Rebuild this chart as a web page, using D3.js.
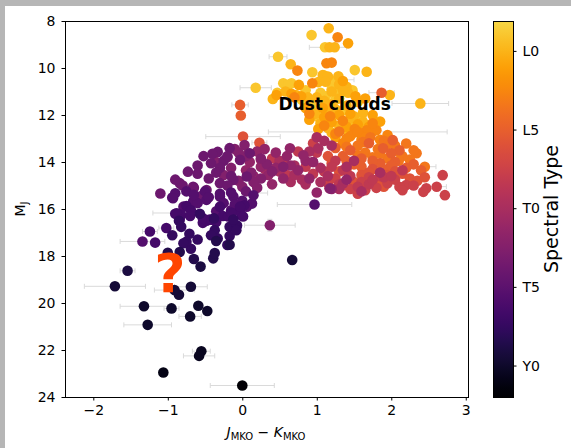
<!DOCTYPE html>
<html>
<head>
<meta charset="utf-8">
<script src="https://cdn.jsdelivr.net/npm/d3@7"></script>
<style>
body { margin: 0; background: #b6b6b6; }
svg { display: block; font-family: "DejaVu Sans", sans-serif; }
</style>
</head>
<body>
<div id="chart"></div>
<script>
// spectral type as a number: 10 = L0, 20 = T0, 30 = Y0
var sptBins = [9, 10, 11, 12.5, 13.5, 15, 16, 17.5, 18.5, 20, 21.5, 22.5, 24, 25.5, 26.5, 27.5, 28.5, 29, 29.5, 30, 30.5, 31, 31.8];

// J-K colour per bin
var jkBins = [
  [0.93,1.11,0.48,0.94,1.51,0.18,0.55,0.66,0.62,1.10,1.22,1.05,1.30,0.80,0.95,1.35,1.00,1.15,1.45,1.60,1.20,0.47,1.25,1.48,0.85,1.12],
  [1.16,1.17,1.24,0.65,1.67,0.41,1.98,2.39,1.08,1.15,1.29,1.02,1.12,1.30,1.40,1.20,1.42,0.58,0.72,0.88,1.10,1.55,1.40,1.25,0.92,1.15,1.50,1.62,1.05,1.30,1.55,1.20,1.70,1.35,1.00,1.30,1.18,1.45,0.98,1.62,1.38,1.15],
  [1.42,0.76,0.46,0.66,0.79,1.35,1.52,1.65,0.85,1.08,1.30,1.45,1.75,1.85,1.40,1.60,1.25,1.02,1.75,1.20,1.55,1.70,1.10,1.50,0.90],
  [1.28,0.74,1.13,1.20,0.94,0.70,0.90,1.18,1.35,1.51,1.67,1.45,1.80,1.95,1.10,1.60,1.35,1.55,1.65,1.85,1.25,1.75,1.40],
  [1.62,2.20,2.34,2.45,1.72,1.90,2.05,1.55,1.82,2.10,1.40,1.65,2.25,1.95,1.30,1.75,2.15,1.95,2.10,1.55,1.85,2.30],
  [-0.03,-0.02,1.87,2.02,2.11,2.00,1.89,1.70,1.45,1.60,1.85,2.05,2.30,1.50,1.35,2.40,1.95,1.25,1.75,2.20,1.60,1.40,2.00],
  [0.01,0.23,2.15,2.25,1.95,1.75,1.40,1.60,1.20,2.35,1.85,1.50,1.15,1.70,2.05,1.30,1.90,2.45],
  [0.95,2.69,2.61,2.72,2.47,2.43,2.20,2.11,2.30,1.80,1.65,1.95,1.55,1.35,2.05,1.70,1.25,1.45,1.85,2.15,1.15,1.60],
  [1.90,2.00,1.45,1.10,0.85,1.30,1.70,2.15,1.55,1.00,0.55,0.40,0.75,1.25,0.60,1.75,1.35,0.95,1.20],
  [1.35,1.17,1.00,1.10,0.95,1.15,1.40,0.80,1.05,0.65,0.30,0.25,0.50,1.30,1.60,0.90,1.20,0.70,1.50,1.85,1.02,0.70,0.85,1.05,0.50],
  [0.20,0.10,0.35,0.45,0.75,0.90,0.55,0.15,0.40,1.20,1.00,0.05,0.30,0.60,0.85,1.40,0.64,0.82,0.25,0.65,0.45,0.95],
  [0.37,-0.10,0.05,-0.15,0.12,0.25,-0.05,0.00,0.20,-0.25,0.55,0.33,-0.35,-0.20,1.18,0.03,0.08,-0.05,0.25,0.40,0.15],
  [-0.73,-0.84,-0.66,-0.48,-0.30,-0.12,-0.60,-0.52,-0.33,-0.42,-0.25,-0.17,-0.65,-0.45,-0.15,-0.30,0.05,-0.80,-1.10,-0.55,0.06,-0.03,0.10,-0.20,-0.40,-0.60,-0.35,-0.90,-0.20],
  [-0.94,-0.90,-0.93,-0.79,-0.66,-0.48,-0.30,-0.12,0.13,0.15,-1.34,-0.30,-0.50,-0.10,-0.75,0.06,0.97,-0.35,-0.15,-0.60,-0.45,-0.15,-0.65,-0.25,0.00],
  [-1.02,-1.24,-1.17,-0.82,-0.90,-0.75,-0.69,-0.53,-0.48,-0.44,-0.30,-0.26,-0.01,-0.04,0.03,-0.88,-0.84,-0.53,-0.41,-0.19,-0.03,0.01,-0.70,-0.15,-0.35],
  [-0.85,-0.82,-0.57,-0.38,-0.37,-0.17,-0.07,-0.12,-0.17,-0.33,-0.42,-0.60,-0.71,-0.69,-0.94,-0.75,-0.79,-0.20,-0.08],
  [-0.65,-0.84,-1.00,-0.39,-0.37,-0.17,-0.35],
  [-0.56,-1.54],
  [-1.71,-0.85,-0.91,-0.69,0.67],
  [-0.59,-0.47,-0.70,-0.95,-1.32,-1.27],
  [-0.55,-0.58],
  [-1.06],
  [0.00]
];

// absolute J magnitude per bin
var mjBins = [
  [8.60,9.12,9.52,10.18,10.09,10.84,10.65,10.65,10.72,10.32,10.60,11.05,11.10,11.35,11.60,11.80,12.05,12.20,12.30,12.15,10.90,11.05,11.35,10.95,10.95,11.20],
  [8.31,9.12,9.12,9.84,10.16,11.32,11.15,11.51,10.30,10.36,10.35,10.60,10.58,10.70,10.80,11.00,11.05,11.00,11.15,11.25,11.40,11.45,11.60,11.75,11.85,11.95,12.05,11.90,12.35,12.45,12.60,12.75,12.45,10.95,11.25,11.30,11.55,12.15,11.95,12.30,12.60,12.55],
  [8.95,10.72,11.15,11.10,11.20,10.55,11.20,11.30,11.70,11.70,12.00,11.95,12.00,12.28,12.50,12.80,12.95,12.60,12.70,12.30,12.40,12.50,12.10,12.75,12.20],
  [8.69,10.11,9.80,9.77,10.65,11.25,11.95,12.05,12.25,12.60,12.65,12.90,12.65,12.85,12.45,13.05,13.20,12.72,12.95,13.05,12.80,12.35,13.00],
  [13.15,13.21,13.63,14.20,12.95,13.10,13.30,13.30,13.45,13.55,13.35,13.60,13.90,13.85,12.70,13.80,13.75,13.25,13.95,13.70,13.65,13.50],
  [11.57,12.02,11.05,13.07,13.50,13.63,13.42,13.20,13.50,13.85,14.05,14.00,14.10,14.10,13.75,14.35,14.30,13.40,13.95,14.25,14.20,13.95,14.15],
  [12.92,13.18,14.50,14.70,14.55,14.30,14.30,14.55,14.05,14.80,14.80,14.85,13.75,14.45,14.40,14.40,15.05,14.65],
  [13.20,14.56,15.05,15.41,15.12,15.27,14.98,15.05,15.00,15.10,15.20,14.90,15.35,15.00,14.75,14.65,14.70,15.15,14.60,15.20,14.90,14.85],
  [14.65,14.60,14.60,14.40,14.20,14.95,14.95,14.35,15.05,13.60,14.00,13.85,13.55,13.95,14.55,14.75,14.35,14.50,14.20],
  [14.91,15.12,12.95,13.10,14.00,14.60,14.20,14.75,14.85,14.85,14.30,13.90,14.40,15.15,15.25,13.55,13.30,14.15,13.95,14.45,13.42,14.55,14.95,14.25,13.95],
  [13.55,14.00,14.55,13.60,14.35,14.70,14.70,14.60,14.95,15.15,15.30,14.35,13.45,13.75,13.95,14.75,13.42,13.71,14.20,14.15,14.25,14.00],
  [16.69,13.45,13.75,14.25,14.45,14.70,14.80,15.05,15.10,14.55,14.20,14.10,14.00,13.80,15.13,13.28,13.64,13.60,13.85,14.40,14.85],
  [14.41,14.90,15.05,15.19,14.90,14.76,14.15,13.75,13.57,14.05,13.95,13.41,15.10,14.70,14.60,14.25,15.25,15.00,15.34,15.45,14.62,13.91,13.63,13.75,13.65,14.50,14.45,14.75,15.00],
  [15.51,15.33,15.54,15.90,15.68,15.61,15.47,15.47,15.77,15.42,17.38,15.35,15.25,15.80,15.25,15.90,15.81,16.10,16.05,15.75,15.50,15.30,15.40,15.75,15.65],
  [16.81,16.96,17.43,16.25,16.20,15.87,16.05,16.59,16.50,16.45,15.90,16.30,16.27,16.06,15.84,16.18,16.46,16.39,16.46,16.32,15.90,16.32,16.30,16.15,16.55],
  [16.50,16.76,16.20,16.40,16.90,16.76,16.70,16.45,17.15,17.25,17.12,17.30,17.05,17.69,17.12,17.39,17.46,17.53,16.90],
  [18.13,17.83,17.86,18.10,17.87,17.52,17.36],
  [18.45,18.63],
  [19.29,19.65,19.45,19.31,18.17],
  [20.12,20.34,20.57,20.23,20.14,20.93],
  [22.05,22.25],
  [22.96],
  [23.51]
];

// the error bars that show outside the markers
var errJK = [0.00,-0.55,-0.58,-0.70,-1.32,-1.27,-0.95,-1.71,-0.91,-0.69,-1.54,-1.34,0.37,0.97,2.39,0.48,0.18,1.15,-0.03,0.01,1.55,1.30,1.87,2.45,2.61,-1.02,0.23,-1.24,-1.08,0.26];
var errMJ = [23.51,22.05,22.25,20.57,20.14,20.93,20.23,19.29,19.45,19.31,18.63,17.38,16.69,15.81,11.51,9.52,10.84,9.12,11.57,12.92,12.72,10.50,11.05,14.20,15.05,16.81,13.18,16.96,16.17,15.32];
var errDx = [0.43,0.12,0.21,0.15,0.32,0.32,0.10,0.41,0.27,0.22,0.10,0.30,0.34,0.50,0.38,0.12,0.21,0.25,0.11,0.50,1.20,0.20,0.17,0.15,0.13,0.10,0.10,0.10,0.12,0.08];
var errDy = [0,0,0,0,0,0,0,0,0,0,0,0,0.25,0,0.20,0,0,0,0,0,0,0,0,0,0,0,0,0,0,0];

var xTicks = [-2, -1, 0, 1, 2, 3];
var yTicks = [8, 10, 12, 14, 16, 18, 20, 22, 24];
var cbTicks = [10, 15, 20, 25, 30];
var cbLabels = ["L0", "L5", "T0", "T5", "Y0"];

var width = 571, height = 448;

var svg = d3.select("#chart").append("svg")
    .attr("width", width)
    .attr("height", height);

// white figure on the grey backdrop
svg.append("rect")
    .attr("x", 5).attr("y", 6)
    .attr("width", width - 5).attr("height", height - 6)
    .attr("fill", "#fff");

var x = d3.scaleLinear().domain([-2.38, 3.03]).range([65, 468]);
var y = d3.scaleLinear().domain([8, 24]).range([21, 397]);
var color = d3.scaleSequential(function (t) { return d3.interpolateInferno(t * 0.9); })
    .domain([32, 8.1]);

var stars = [];
sptBins.forEach(function (s, i) {
    jkBins[i].forEach(function (v, j) {
        stars.push({ jk: v, mj: mjBins[i][j], spt: s });
    });
});

var errs = errJK.map(function (v, i) {
    return { jk: v, mj: errMJ[i], dx: errDx[i], dy: errDy[i] };
});

// error bars
var eb = svg.append("g").attr("stroke", "#dadada").attr("stroke-width", 1);
errs.forEach(function (e) {
    var cy = y(e.mj), x0 = x(e.jk - e.dx), x1 = x(e.jk + e.dx);
    eb.append("line").attr("x1", x0).attr("x2", x1).attr("y1", cy).attr("y2", cy);
    eb.append("line").attr("x1", x0).attr("x2", x0).attr("y1", cy - 2.5).attr("y2", cy + 2.5);
    eb.append("line").attr("x1", x1).attr("x2", x1).attr("y1", cy - 2.5).attr("y2", cy + 2.5);
    if (e.dy > 0) {
        var cx = x(e.jk), y0 = y(e.mj - e.dy), y1 = y(e.mj + e.dy);
        eb.append("line").attr("x1", cx).attr("x2", cx).attr("y1", y0).attr("y2", y1);
        eb.append("line").attr("x1", cx - 2.5).attr("x2", cx + 2.5).attr("y1", y0).attr("y2", y0);
        eb.append("line").attr("x1", cx - 2.5).attr("x2", cx + 2.5).attr("y1", y1).attr("y2", y1);
    }
});

svg.append("g").selectAll("circle")
    .data(stars)
    .enter().append("circle")
    .attr("cx", function (d) { return x(d.jk); })
    .attr("cy", function (d) { return y(d.mj); })
    .attr("r", 5.3)
    .attr("fill", function (d) { return color(d.spt); });

// axes
var xAxis = svg.append("g")
    .attr("transform", "translate(0,397)")
    .call(d3.axisBottom(x).tickValues(xTicks).tickSize(3.5).tickPadding(5).tickFormat(d3.format("d")));
var yAxis = svg.append("g")
    .attr("transform", "translate(65,0)")
    .call(d3.axisLeft(y).tickValues(yTicks).tickSize(3.5).tickPadding(6).tickFormat(d3.format("d")));
[xAxis, yAxis].forEach(function (a) {
    a.select(".domain").remove();
    a.selectAll("text").attr("font-size", 14).attr("font-family", "DejaVu Sans").attr("fill", "#000");
    a.selectAll("line").attr("stroke", "#000");
});

svg.append("rect")
    .attr("x", 65).attr("y", 21)
    .attr("width", 403).attr("height", 376)
    .attr("fill", "none").attr("stroke", "#000").attr("stroke-width", 1)
    .attr("shape-rendering", "crispEdges");

// axis labels
var xl = svg.append("text")
    .attr("x", 266).attr("y", 437)
    .attr("text-anchor", "middle")
    .attr("font-size", 14);
xl.append("tspan").attr("font-style", "italic").text("J");
xl.append("tspan").attr("font-size", 10).attr("dy", 3).text("MKO");
xl.append("tspan").attr("dy", -3).text(" \u2212 ");
xl.append("tspan").attr("font-style", "italic").text("K");
xl.append("tspan").attr("font-size", 10).attr("dy", 3).text("MKO");

var yl = svg.append("text")
    .attr("transform", "translate(25,209) rotate(-90)")
    .attr("text-anchor", "middle")
    .attr("font-size", 14);
yl.append("tspan").text("M");
yl.append("tspan").attr("font-size", 10).attr("dy", 3).text("J");

// annotations
svg.append("text")
    .attr("x", x(1.24)).attr("y", y(11.77))
    .attr("text-anchor", "middle")
    .attr("font-size", 17).attr("font-weight", "bold")
    .text("Dust clouds");

svg.append("text")
    .attr("x", x(-0.97)).attr("y", y(19.53))
    .attr("text-anchor", "middle")
    .attr("font-size", 54).attr("font-weight", "bold")
    .attr("fill", "#ff4500")
    .text("?");

// colourbar
var cb = d3.scaleLinear().domain([8.1, 32]).range([21, 397]);
var grad = svg.append("defs").append("linearGradient")
    .attr("id", "cbgrad").attr("x1", 0).attr("y1", 0).attr("x2", 0).attr("y2", 1);
d3.range(0, 41).forEach(function (i) {
    var s = cb.invert(21 + i / 40 * 376);
    grad.append("stop").attr("offset", (i / 40 * 100) + "%").attr("stop-color", color(s));
});
svg.append("rect")
    .attr("x", 493).attr("y", 21).attr("width", 20).attr("height", 376)
    .attr("fill", "url(#cbgrad)")
    .attr("stroke", "#000").attr("stroke-width", 1)
    .attr("shape-rendering", "crispEdges");
var cbAxis = svg.append("g")
    .attr("transform", "translate(513,0)")
    .call(d3.axisRight(cb).tickValues(cbTicks).tickSize(3.5).tickPadding(6)
        .tickFormat(function (d, i) { return cbLabels[i]; }));
cbAxis.select(".domain").remove();
cbAxis.selectAll("text").attr("font-size", 14).attr("font-family", "DejaVu Sans").attr("fill", "#000");
cbAxis.selectAll("line").attr("stroke", "#000");

svg.append("text")
    .attr("transform", "translate(558,209) rotate(-90)")
    .attr("text-anchor", "middle")
    .attr("font-size", 19)
    .text("Spectral Type");
</script>
</body>
</html>
